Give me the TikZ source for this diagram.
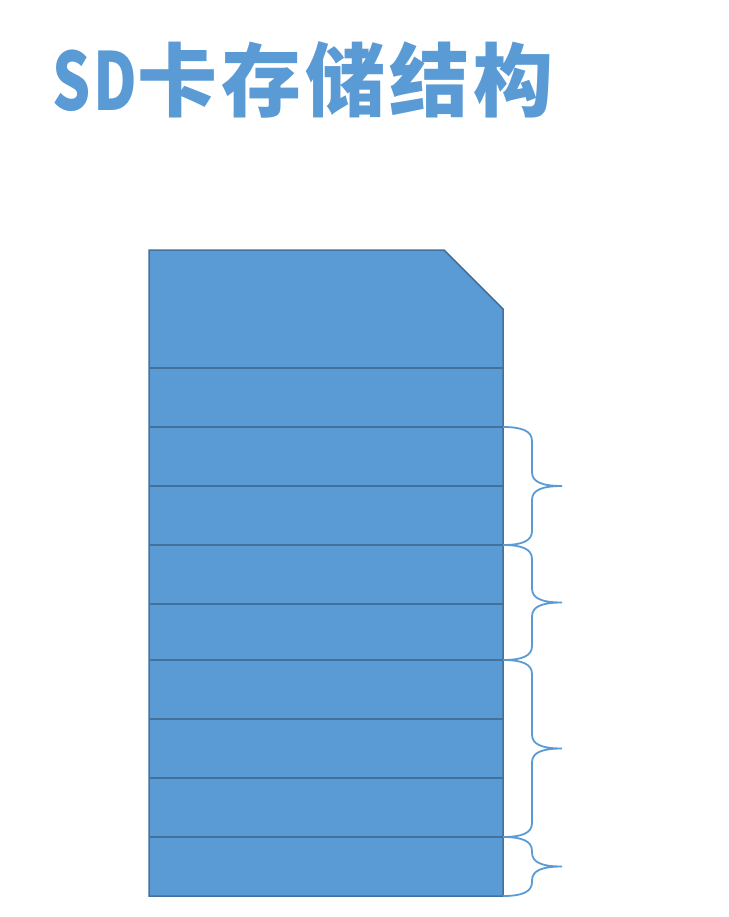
\documentclass[tikz,border=0pt]{standalone}
\usepackage{fontspec}
\newfontfamily\cjkfont[LetterSpace=5]{Noto Sans CJK SC}
\usepackage{tikz}
\usetikzlibrary{positioning,calc}
\definecolor{cardblue}{HTML}{5B9BD5}
\definecolor{cardedge}{HTML}{41719C}

% curly brace on the right of the card, from row line #1 to row line #2
\newcommand{\sdbrace}[3]{%
  \pgfmathsetmacro\bmid{(#2+#3)/2}
  \coordinate (#1top) at (503,#2);
  \coordinate (#1bot) at (503,#3);
  \coordinate (#1tip) at (562,\bmid);
  \draw[bracepath] (#1top) .. controls (522,#2) and (532,#2+4) .. (532,#2+14)
    -- (532,\bmid-14) .. controls (532,\bmid-4) and (542,\bmid) .. (#1tip)
    .. controls (542,\bmid) and (532,\bmid+4) .. (532,\bmid+14)
    -- (532,#3-14) .. controls (532,#3-4) and (522,#3) .. (#1bot);
}

\begin{document}
\begin{tikzpicture}[
    x=1pt, y=-1pt,
    card/.style={fill=cardblue, draw=cardedge, line width=1.5pt},
    rowline/.style={draw=cardedge, line width=1.5pt},
    bracepath/.style={draw=cardblue, line width=1.8pt},
    title/.style={text=cardblue, anchor=base west, inner sep=0pt,
        font=\cjkfont\bfseries\fontsize{80}{80}\selectfont}
]

\useasboundingbox (0,0) rectangle (728,917);

\node[title] (title) at (52,111) {\scalebox{0.75}[1]{SD}卡存储结构};

% card body
\draw[card] (149,250) -- (444,250) -- (503,309) -- (503,896) -- (149,896) -- cycle;
\foreach \y in {368,427,486,545,604,660,719,778,837}
    \draw[rowline] (149,\y) -- (503,\y);

% braces
\sdbrace{ba}{427}{545}
\sdbrace{bb}{545}{660}
\sdbrace{bc}{660}{837}
\sdbrace{bd}{837}{896}

\end{tikzpicture}
\end{document}
